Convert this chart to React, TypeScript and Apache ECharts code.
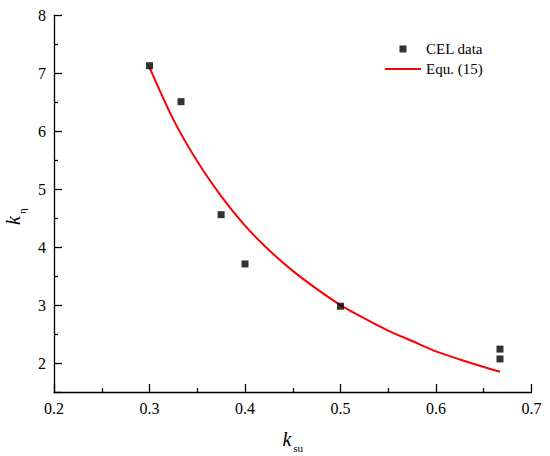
import React, { useEffect, useRef } from "react";
import * as echarts from "echarts";

const celX = [0.3, 0.333, 0.375, 0.4, 0.5, 0.667, 0.667];
const celY = [7.13, 6.51, 4.56, 3.71, 2.98, 2.24, 2.07];

const equX = [0.3, 0.325, 0.35, 0.375, 0.4, 0.425, 0.45, 0.475, 0.5, 0.525, 0.55, 0.575, 0.6, 0.625, 0.65, 0.667];
const equY = [7.1, 6.2, 5.48, 4.88, 4.37, 3.95, 3.59, 3.28, 3.0, 2.77, 2.56, 2.38, 2.2, 2.06, 1.93, 1.85];

const xTicks = [0.2, 0.3, 0.4, 0.5, 0.6, 0.7];

const FONT = "'Liberation Serif', 'Times New Roman', serif";

export default function App() {
  const ref = useRef<HTMLDivElement>(null);
  useEffect(() => {
    document.body.style.margin = "0";
    const chart = echarts.init(ref.current!, undefined, { renderer: "svg" });
    const axisCommon = {
      axisLine: { show: true, lineStyle: { color: "#000", width: 1.3 } },
      axisTick: { show: true, inside: true, length: 8, lineStyle: { color: "#000", width: 1.3 } },
      minorTick: { show: true, splitNumber: 2, length: 4, lineStyle: { color: "#000", width: 1.3 } },
      splitLine: { show: false },
      axisLabel: { color: "#000", fontFamily: FONT, fontSize: 16, margin: 8 },
    };
    const rich = {
      k: { fontFamily: FONT, fontStyle: "italic", fontSize: 20, lineHeight: 28, verticalAlign: "middle", color: "#000" },
      s: { fontFamily: FONT, fontSize: 11, lineHeight: 28, verticalAlign: "bottom", color: "#000", padding: [0, 0, 0, 2] },
      p: { width: 26, lineHeight: 28 },
    };
    chart.setOption({
      animation: false,
      backgroundColor: "#fff",
      textStyle: { fontFamily: FONT },
      grid: { left: 54, right: 18.5, top: 15.3, bottom: 64, outerBoundsMode: "none", containLabel: false },
      legend: {
        orient: "vertical",
        left: 385,
        top: 41,
        padding: 0,
        itemWidth: 36,
        itemHeight: 7,
        itemGap: 4,
        textStyle: { fontFamily: FONT, fontSize: 15, color: "#000", lineHeight: 16 },
        data: [
          { name: "CEL data", icon: "path://M0,0h1v1h-1z" },
          { name: "Equ. (15)", icon: "path://M0,0h18v1h-18z" },
        ],
      },
      xAxis: {
        type: "value",
        min: xTicks[0],
        max: xTicks[xTicks.length - 1],
        interval: 0.1,
        ...axisCommon,
        axisLabel: { ...axisCommon.axisLabel, formatter: (v: number) => v.toFixed(1) },
        name: "{k|k}{s|su}",
        nameLocation: "middle",
        nameGap: 33,
        nameTextStyle: { rich },
      },
      yAxis: {
        type: "value",
        min: 1.5,
        max: 8,
        minInterval: 1,
        maxInterval: 1,
        ...axisCommon,
        axisLabel: {
          ...axisCommon.axisLabel,
          showMinLabel: false,
          formatter: (v: number) => (Number.isInteger(v) ? String(v) : ""),
        },
        name: "{k|k}{s|η}{p|}",
        nameLocation: "middle",
        nameGap: 24,
        nameRotate: 90,
        nameTextStyle: { rich },
      },
      series: [
        {
          name: "CEL data",
          type: "scatter",
          symbol: "rect",
          symbolSize: 7,
          itemStyle: { color: "#000" },
          data: celX.map((x, i) => [x, celY[i]]),
          z: 3,
        },
        {
          name: "Equ. (15)",
          type: "line",
          smooth: 0.3,
          symbol: "none",
          lineStyle: { color: "#ff0000", width: 2 },
          itemStyle: { color: "#ff0000" },
          data: equX.map((x, i) => [x, equY[i]]),
          z: 2,
        },
      ],
    });
    return () => chart.dispose();
  }, []);
  return <div ref={ref} style={{ width: 550, height: 456 }} />;
}
